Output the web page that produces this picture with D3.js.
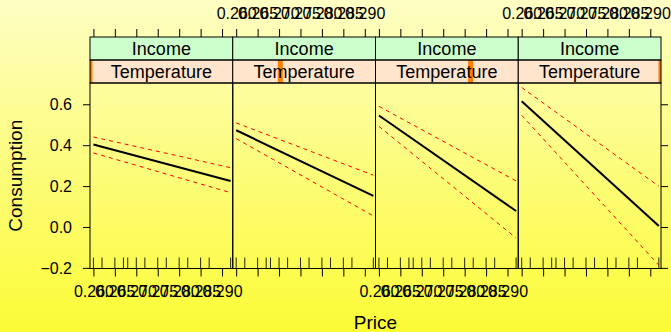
<!DOCTYPE html>
<html lang="en">
<head>
	<meta charset="UTF-8">
	<title>Price effect</title>
	<style>
		body {
			margin: 0;
			font-family: "Liberation Sans", Arial, sans-serif;
		}
		svg text {
			fill: #000;
		}
		.tick text {
			font-size: 16px;
		}
		.strip text {
			font-size: 18px;
		}
	</style>
</head>
<body>
	<svg></svg>
</body>
<script src="https://cdnjs.cloudflare.com/ajax/libs/d3/7.8.5/d3.min.js"></script>
<script>
	const width = 671,
		height = 332;

	// values
	const tempLevels = [24, 40, 56, 72];
	const tempRange = [24, 72];
	const priceEnds = [0.260, 0.292];
	const fitVals = [[0.403, 0.225], [0.473, 0.152], [0.545, 0.078], [0.615, 0.005]];
	const upperVals = [[0.440, 0.290], [0.509, 0.253], [0.590, 0.225], [0.682, 0.199]];
	const lowerVals = [[0.362, 0.168], [0.432, 0.054], [0.492, -0.054], [0.546, -0.187]];
	const rugPrice = [0.260, 0.262, 0.265, 0.267, 0.268, 0.270, 0.272, 0.275, 0.277, 0.280, 0.282, 0.285, 0.287, 0.292];
	const xTicks = [0.260, 0.265, 0.270, 0.275, 0.280, 0.285, 0.290];
	const yTicks = [-0.2, 0.0, 0.2, 0.4, 0.6];

	const left = 90, right = 661;
	const panelW = (right - left) / tempLevels.length;
	const stripTop = 37, stripMid = 60, panelTop = 83, panelBottom = 268.5;

	const svg = d3.select('svg')
		.attr('width', width)
		.attr('height', height);

	const grad = svg.append('defs').append('linearGradient')
		.attr('id', 'bg')
		.attr('x1', 0).attr('y1', 0).attr('x2', 0).attr('y2', 1);
	grad.append('stop').attr('offset', '0%').attr('stop-color', '#fefec4');
	grad.append('stop').attr('offset', '100%').attr('stop-color', '#fbfb36');
	svg.append('rect')
		.attr('width', width).attr('height', height)
		.attr('fill', 'url(#bg)');

	const y = d3.scaleLinear()
		.domain([-0.203, 0.704])
		.range([panelBottom, panelTop]);

	const tempScale = d3.scaleLinear().domain(tempRange).range([0, 1]);

	tempLevels.forEach((t, i) => {
		const x0 = left + i * panelW;
		const x = d3.scaleLinear()
			.domain([0.2592, 0.2925])
			.range([x0, x0 + panelW]);
		const g = svg.append('g');

		// strips
		const strip = g.append('g').attr('class', 'strip');
		strip.append('rect')
			.attr('x', x0).attr('y', stripTop)
			.attr('width', panelW).attr('height', stripMid - stripTop)
			.attr('fill', '#ccffcc');
		strip.append('rect')
			.attr('x', x0).attr('y', stripMid)
			.attr('width', panelW).attr('height', panelTop - stripMid)
			.attr('fill', '#ffe5cc');
		const cx = x0 + tempScale(t) * panelW;
		strip.append('rect')
			.attr('x', Math.max(x0, cx - 2.5))
			.attr('y', stripMid)
			.attr('width', Math.min(x0 + panelW, cx + 2.5) - Math.max(x0, cx - 2.5))
			.attr('height', panelTop - stripMid)
			.attr('fill', '#ff7f00');
		strip.append('text')
			.attr('x', x0 + panelW / 2).attr('y', (stripTop + stripMid) / 2 + 6.5)
			.attr('text-anchor', 'middle')
			.text('Income');
		strip.append('text')
			.attr('x', x0 + panelW / 2).attr('y', (stripMid + panelTop) / 2 + 6.5)
			.attr('text-anchor', 'middle')
			.text('Temperature');
		strip.append('rect')
			.attr('x', x0).attr('y', stripTop)
			.attr('width', panelW).attr('height', stripMid - stripTop)
			.attr('fill', 'none').attr('stroke', '#000');
		strip.append('rect')
			.attr('x', x0).attr('y', stripMid)
			.attr('width', panelW).attr('height', panelTop - stripMid)
			.attr('fill', 'none').attr('stroke', '#000');

		// rug
		g.selectAll('.rug')
			.data(rugPrice)
			.enter().append('line')
			.attr('x1', d => x(d)).attr('x2', d => x(d))
			.attr('y1', panelBottom).attr('y2', panelBottom - 11)
			.attr('stroke', '#000').attr('stroke-opacity', 0.85);

		// bands and fit
		const line = d3.line()
			.x((d, j) => x(priceEnds[j]))
			.y(d => y(d));
		[upperVals[i], lowerVals[i]].forEach(b => {
			g.append('path')
				.attr('d', line(b))
				.attr('fill', 'none')
				.attr('stroke', '#ff0000')
				.attr('stroke-dasharray', '4,4');
		});
		g.append('path')
			.attr('d', line(fitVals[i]))
			.attr('fill', 'none')
			.attr('stroke', '#000')
			.attr('stroke-width', 2);

		// panel box
		g.append('rect')
			.attr('x', x0).attr('y', panelTop)
			.attr('width', panelW).attr('height', panelBottom - panelTop)
			.attr('fill', 'none').attr('stroke', '#000');

		// x axes: ticks everywhere, labels alternate bottom / top
		const fmt = d3.format('.3f');
		const bottom = g.append('g')
			.attr('transform', `translate(0,${panelBottom})`)
			.call(d3.axisBottom(x).tickValues(xTicks).tickSize(8).tickPadding(9)
				.tickFormat(i % 2 === 0 ? fmt : ''));
		const top = g.append('g')
			.attr('transform', `translate(0,${stripTop})`)
			.call(d3.axisTop(x).tickValues(xTicks).tickSize(8).tickPadding(10)
				.tickFormat(i % 2 === 1 ? fmt : ''));
		[bottom, top].forEach(a => {
			a.select('.domain').remove();
			a.attr('font-family', null).attr('font-size', null);
		});
	});

	// y axis left (labels) and right (ticks only)
	const yLeft = svg.append('g')
		.attr('transform', `translate(${left},0)`)
		.call(d3.axisLeft(y).tickValues(yTicks).tickSize(7).tickPadding(11)
			.tickFormat(d => d3.format('.1f')(d).replace('-', '\u2212')));
	const yRight = svg.append('g')
		.attr('transform', `translate(${right},0)`)
		.call(d3.axisRight(y).tickValues(yTicks).tickSize(7).tickFormat(''));
	[yLeft, yRight].forEach(a => {
		a.select('.domain').remove();
		a.attr('font-family', null).attr('font-size', null);
	});

	svg.append('text')
		.attr('x', (left + right) / 2).attr('y', 329)
		.attr('text-anchor', 'middle')
		.attr('font-size', 19)
		.text('Price');
	svg.append('text')
		.attr('transform', `translate(22,${(panelTop + panelBottom) / 2}) rotate(-90)`)
		.attr('text-anchor', 'middle')
		.attr('font-size', 19)
		.text('Consumption');
</script>
</html>
